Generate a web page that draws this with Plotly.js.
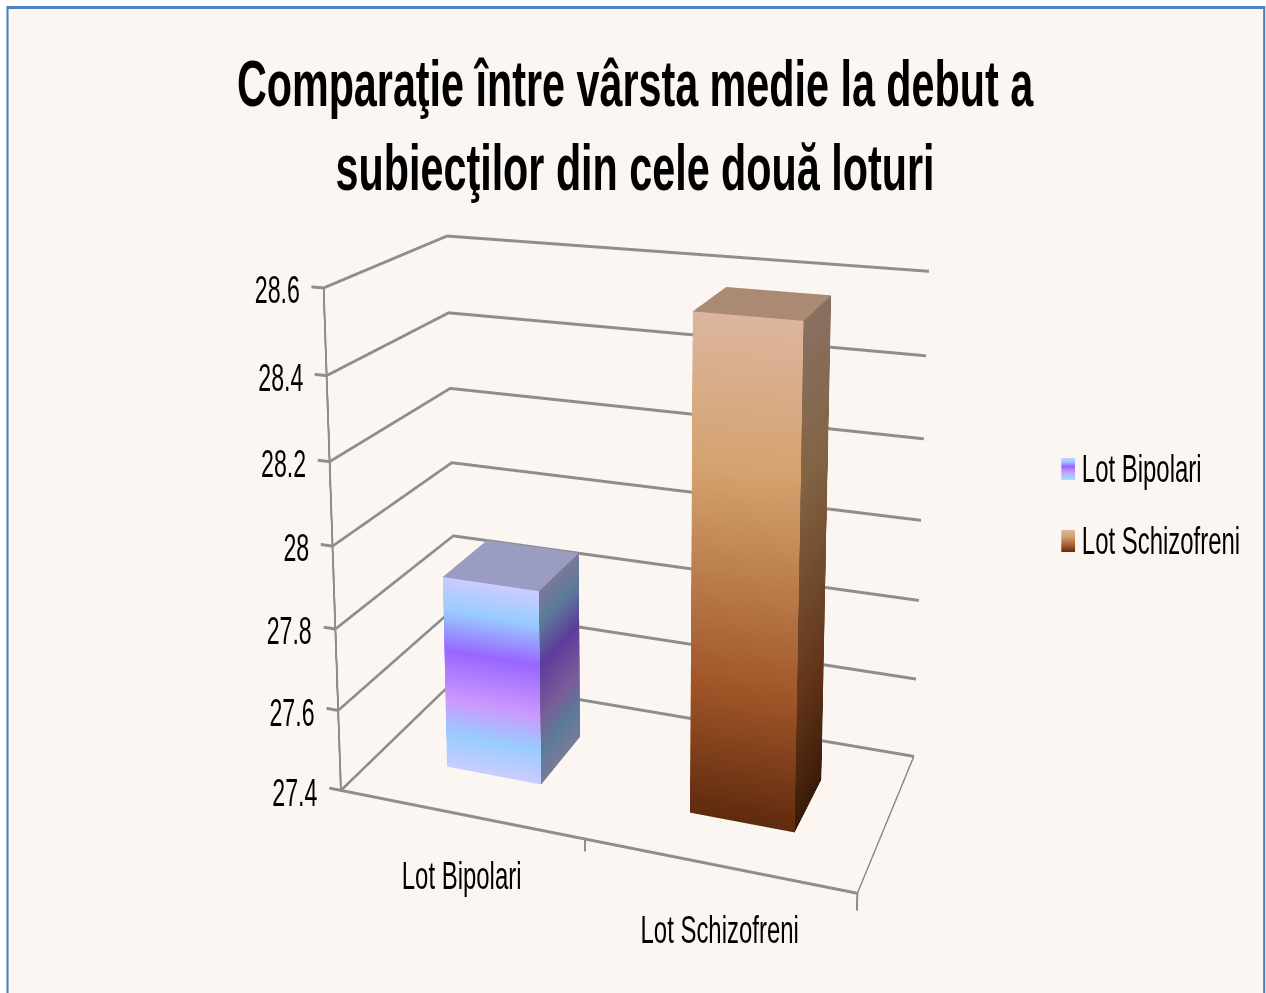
<!DOCTYPE html>
<html><head><meta charset="utf-8"><script src="https://cdn.plot.ly/plotly-3.0.1.min.js"></script>
<style>html,body{margin:0;padding:0;background:#fff;overflow:hidden;width:1266px;height:993px}#wrap{position:absolute;left:0;top:0;width:1266px;height:993px;overflow:hidden}#chart{position:absolute;left:0;top:0;transform-origin:0 0}</style></head><body><div id="wrap"><div id="chart"></div></div>
<script>
const categories=['Lot Bipolari','Lot Schizofreni'];
const values=[27.88,28.57];
const tickLabels=['27.4','27.6','27.8','28','28.2','28.4','28.6'];
const tickValues=[27.4,27.6,27.8,28,28.2,28.4,28.6];
const axisBase=27.4;
const barHalfWidth=0.2;
const barDepth=[0.3,0.7];
const bipolarStops=['#ccccff','#99ccff','#9966ff','#cc99ff','#99ccff','#ccccff'];
const bipolarPos=[0,0.17,0.38,0.64,0.82,1];
const schizoStops=['#dcb59e','#d4a26e','#a05528','#5f2a0e'];
const schizoPos=[0,0.3,0.73,1];

const W=1266,H=993;
// camera
const eye={x:1.475,y:-4.020,z:1.143},up={x:0.068,y:-0.181,z:1};
const boxW=1.393,boxD=0.697,boxH=0.940,focal=2.008,S=0.700,ppX=632.163,ppY=533.258;

function rgb(c){return [1,3,5].map(i=>parseInt(c.substr(i,2),16));}
function shade(c,f){const a=rgb(c).map(v=>Math.round(v*f));return `rgb(${a[0]},${a[1]},${a[2]})`;}
function bar(i,name,stops,pos,sideF,topColor){
 const x=[],y=[],z=[],col=[],I=[],J=[],K=[];const x0=i+.5-barHalfWidth,x1=i+.5+barHalfWidth,[y0,y1]=barDepth,v=values[i];
 const add=(xa,ya,xb,yb,f)=>{const base=x.length;pos.forEach((t,s)=>{const zz=v-(v-axisBase)*t;x.push(xa,xb);y.push(ya,yb);z.push(zz,zz);const cc=shade(stops[s],f);col.push(cc,cc);});
  for(let s=0;s<pos.length-1;s++){const a=base+2*s;I.push(a,a+1);J.push(a+1,a+3);K.push(a+2,a+2);}};
 add(x0,y0,x1,y0,1);add(x1,y0,x1,y1,sideF);
 const b=x.length;x.push(x0,x1,x1,x0);y.push(y0,y0,y1,y1);z.push(v,v,v,v);col.push(topColor,topColor,topColor,topColor);I.push(b,b);J.push(b+1,b+2);K.push(b+2,b+3);
 return {type:'mesh3d',name,x,y,z,i:I,j:J,k:K,vertexcolor:col,flatshading:true,lighting:{ambient:1,diffuse:0,specular:0,roughness:1,fresnel:0},hoverinfo:'skip',showscale:false};
}
const gx=[],gy=[],gz=[];
for(const v of tickValues){gx.push(-0.05,0,0,2,null);gy.push(0,0,1,1,null);gz.push(v,v,v,v,null);}
gx.push(0,0,null,0,2,null,0,0,null,1,1,null,2,2);gy.push(0,0,null,0,0,null,0,1,null,0,0,null,0,0);gz.push(axisBase,28.6,null,axisBase,axisBase,null,axisBase,axisBase,null,axisBase-.03,axisBase,null,axisBase-.04,axisBase);
const traces=[
 {type:'scatter3d',mode:'lines',x:gx,y:gy,z:gz,line:{color:'#8e8e8e',width:6},hoverinfo:'skip',showlegend:false,connectgaps:false},
 {type:'scatter3d',mode:'lines',x:[2,2],y:[0,1],z:[axisBase,axisBase],line:{color:'#8e8e8e',width:4},hoverinfo:'skip',showlegend:false},
 bar(0,categories[0],bipolarStops,bipolarPos,.6,'#9a9cc2'),
 bar(1,categories[1],schizoStops,schizoPos,.62,'#ab8a73')
];
// plot space: page x = tx + S*plotX, page y = ty + plotY
const padX=20,padY=560;const PW=(W+2*padX)/S,PH=H+2*padY,tx=-padX,ty=-padY;
const fx=v=>(v-tx)/S/PW,fy=v=>1-(v-ty)/PH;
const hpix=focal*H;const wpix=Math.min(ppX-tx,tx+S*PW-ppX)*2;
const dom={x:[fx(ppX-wpix/2),fx(ppX+wpix/2)],y:[fy(ppY+hpix/2),fy(ppY-hpix/2)]};
function swatch(stops,pos){const s=stops.map((c,i)=>`<stop offset="${pos[i]}" stop-color="${c}"/>`).join('');
 return 'data:image/svg+xml,'+encodeURIComponent(`<svg xmlns="http://www.w3.org/2000/svg" width="14" height="22" preserveAspectRatio="none"><defs><linearGradient id="g" x1="0" y1="0" x2="0" y2="1">${s}</linearGradient></defs><rect width="14" height="22" fill="url(#g)"/></svg>`);}
const FONT='"Liberation Sans",sans-serif';
const annoFont={family:FONT,size:38,color:'#000'};
const sceneAnn=tickValues.map((v,i)=>({x:0,y:0,z:v,text:tickLabels[i],showarrow:false,xanchor:'right',yanchor:'middle',xshift:-22/S,yshift:-2,font:annoFont}))
 .concat(categories.map((c,i)=>({x:i+.5,y:0,z:axisBase,text:c,showarrow:false,xanchor:'center',yanchor:'middle',xshift:2/S,yshift:-62-i*2,font:annoFont})));
const layout={width:PW,height:PH,margin:{l:0,r:0,t:0,b:0},paper_bgcolor:'#ffffff',showlegend:false,
 title:{text:'Comparaţie între vârsta medie la debut a<br>subiecţilor din cele două loturi',x:fx(635),xanchor:'center',y:fy(106),yanchor:'top',font:{family:FONT,size:65,color:'#000',weight:700}},
 shapes:[{type:'rect',xref:'paper',yref:'paper',x0:fx(7.5),x1:fx(1264),y0:fy(1100),y1:fy(7.5),fillcolor:'#fbf6f1',line:{color:'#4f81bd',width:3},layer:'below'}],
 images:[{source:swatch(bipolarStops,bipolarPos),xref:'paper',yref:'paper',x:fx(1061),y:fy(458),sizex:14/S/PW,sizey:22/PH,sizing:'stretch',xanchor:'left',yanchor:'top',layer:'above'},
  {source:swatch(schizoStops,schizoPos),xref:'paper',yref:'paper',x:fx(1061),y:fy(530),sizex:14/S/PW,sizey:22/PH,sizing:'stretch',xanchor:'left',yanchor:'top',layer:'above'}],
 annotations:[{xref:'paper',yref:'paper',x:fx(1080),y:fy(469),text:categories[0],showarrow:false,xanchor:'left',yanchor:'middle',font:annoFont},
  {xref:'paper',yref:'paper',x:fx(1080),y:fy(541),text:categories[1],showarrow:false,xanchor:'left',yanchor:'middle',font:annoFont}],
 scene:{domain:dom,bgcolor:'rgba(0,0,0,0)',dragmode:'orbit',aspectmode:'manual',aspectratio:{x:boxW*2.12/2,y:boxD*1.2,z:boxH*1.3/1.2},
 camera:{eye,center:{x:0,y:0,z:0},up,projection:{type:'perspective'}},
 xaxis:{visible:false,range:[-0.06,2.06]},yaxis:{visible:false,range:[-0.1,1.1]},zaxis:{visible:false,range:[27.35,28.65]},annotations:sceneAnn}};
const el=document.getElementById('chart');el.style.width=PW+'px';el.style.height=PH+'px';el.style.transform=`translate(${tx}px,${ty}px) scale(${S},1)`;
function squeeze(){
 const set=(n,ox,k)=>n.setAttribute('transform',`translate(${ox},0) scale(${k},1) translate(${-ox},0)`);
 const t=el.querySelector('.gtitle');if(t){const b=t.getBBox();if(b.width)set(t,b.x+b.width/2,797/S/b.width);}
 el.querySelectorAll('.annotation-text').forEach(n=>{const b=n.getBBox();if(!b.width)return;const txt=n.textContent;
  let ox=b.x+b.width/2,k=.63/S;if(/^[0-9.]+$/.test(txt)){ox=b.x+b.width;k=.61/S;}else if(n.getBoundingClientRect().left>1000)ox=b.x;set(n,ox,k);});}
Plotly.newPlot('chart',traces,layout,{displayModeBar:false}).then(gd=>{gd.on('plotly_afterplot',squeeze);squeeze();[50,300,1000,2000].forEach(t=>setTimeout(squeeze,t));});
</script></body></html>
